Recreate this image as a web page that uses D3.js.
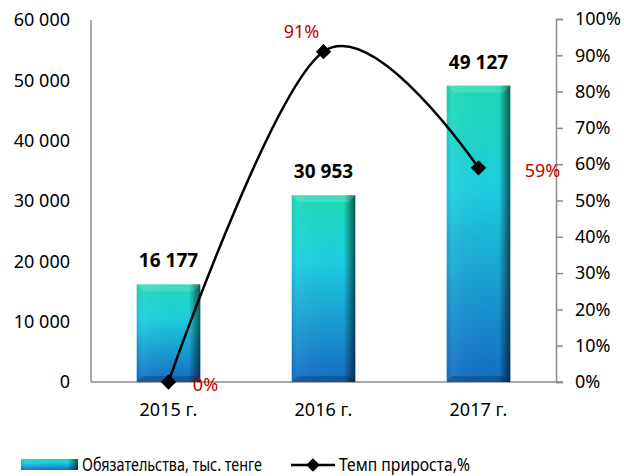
<!DOCTYPE html>
<html>
<head>
<meta charset="utf-8">
<script src="https://cdn.jsdelivr.net/npm/d3@7"></script>
<style>
  body { margin: 0; background: #fff; }
  svg text { font-family: "Noto Sans", "Open Sans", sans-serif; }
</style>
</head>
<body>
<svg id="chart" width="624" height="476"></svg>
<script>
const years = ["2015 г.", "2016 г.", "2017 г."];
const liabilities = [16177, 30953, 49127];
const growth = [0, 91, 59];
const leftTicks = [0, 10000, 20000, 30000, 40000, 50000, 60000];
const rightTicks = [0, 10, 20, 30, 40, 50, 60, 70, 80, 90, 100];
const barLabel = "Обязательства, тыс. тенге";
const lineLabel = "Темп прироста,%";

const svg = d3.select("#chart");
const m = { left: 91, right: 556, top: 20, bottom: 382 };
const fs = 18;

const x = d3.scaleBand().domain(years).range([m.left, m.right]).paddingInner(0.59).paddingOuter(0.295);
const y = d3.scaleLinear().domain([0, 60000]).range([m.bottom, m.top]);
const y2 = d3.scaleLinear().domain([0, 100]).range([m.bottom, m.top - 1]);

const fmt = v => d3.format(",")(v).replace(/,/g, " ");

// gradients
const defs = svg.append("defs");
const vg = defs.append("linearGradient").attr("id", "barGrad").attr("x1", 0).attr("y1", 0).attr("x2", 0).attr("y2", 1);
vg.append("stop").attr("offset", "0%").attr("stop-color", "#1cdab4");
vg.append("stop").attr("offset", "35%").attr("stop-color", "#1ccfe0");
vg.append("stop").attr("offset", "100%").attr("stop-color", "#146cc4");
const hg = defs.append("linearGradient").attr("id", "edgeGrad").attr("x1", 0).attr("y1", 0).attr("x2", 1).attr("y2", 0);
hg.append("stop").attr("offset", "0%").attr("stop-color", "#000").attr("stop-opacity", 0.08);
hg.append("stop").attr("offset", "8%").attr("stop-color", "#fff").attr("stop-opacity", 0.06);
hg.append("stop").attr("offset", "82%").attr("stop-color", "#000").attr("stop-opacity", 0);
hg.append("stop").attr("offset", "100%").attr("stop-color", "#000").attr("stop-opacity", 0.6);

// axes lines
const axisColor = "#8c8c8c";
svg.append("line").attr("x1", m.left).attr("x2", m.left).attr("y1", y(60000)).attr("y2", m.bottom)
  .attr("stroke", axisColor).attr("stroke-width", 1.5);
svg.append("line").attr("x1", m.left).attr("x2", m.right + 7).attr("y1", m.bottom).attr("y2", m.bottom)
  .attr("stroke", axisColor).attr("stroke-width", 1.5);

const gR = svg.append("g").attr("transform", `translate(${m.right},0)`)
  .call(d3.axisRight(y2).tickValues(rightTicks).tickFormat(d => d + "%").tickSize(7).tickPadding(12));
gR.select(".domain").attr("stroke", axisColor).attr("stroke-width", 1.5);
gR.selectAll(".tick line").attr("stroke", axisColor).attr("stroke-width", 1.5);
gR.selectAll("text").attr("font-size", fs).attr("fill", "#000").attr("font-family", "Noto Sans");

const gL = svg.append("g");
gL.selectAll("text").data(leftTicks).join("text")
  .attr("x", 70).attr("y", d => y(d)).attr("dy", "0.35em").attr("text-anchor", "end")
  .attr("font-size", fs).text(fmt);

// x labels
svg.selectAll(".xl").data(years).join("text").attr("class", "xl")
  .attr("x", d => x(d) + x.bandwidth() / 2).attr("y", 416).attr("text-anchor", "middle")
  .attr("font-size", fs).text(d => d);

// bars
const bars = svg.selectAll(".bar").data(liabilities).join("g").attr("class", "bar");
bars.append("rect").attr("x", (d, i) => x(years[i])).attr("y", d => y(d))
  .attr("width", x.bandwidth()).attr("height", d => m.bottom - y(d)).attr("fill", "url(#barGrad)");
bars.append("rect").attr("x", (d, i) => x(years[i])).attr("y", d => y(d))
  .attr("width", x.bandwidth()).attr("height", d => m.bottom - y(d)).attr("fill", "url(#edgeGrad)");
// top bevel
bars.append("path").attr("d", (d, i) => {
  const x0 = x(years[i]), w = x.bandwidth(), t = y(d);
  return `M${x0},${t}L${x0 + w},${t}L${x0 + w - 7},${t + 7}L${x0 + 7},${t + 7}Z`;
}).attr("fill", "#fff").attr("fill-opacity", 0.15);
// bottom bevel
bars.append("path").attr("d", (d, i) => {
  const x0 = x(years[i]), w = x.bandwidth(), b = m.bottom;
  return `M${x0},${b}L${x0 + w},${b}L${x0 + w - 6},${b - 6}L${x0 + 6},${b - 6}Z`;
}).attr("fill", "#000").attr("fill-opacity", 0.2);
bars.append("text").attr("x", (d, i) => x(years[i]) + x.bandwidth() / 2).attr("y", d => y(d) - 17)
  .attr("text-anchor", "middle").attr("font-size", 19).attr("font-weight", "bold").text(fmt);

// growth line
const cx = i => x(years[i]) + x.bandwidth() / 2;
const line = d3.line().x((d, i) => cx(i)).y(d => y2(d)).curve(d3.curveCardinal.tension(0));
svg.append("path").datum(growth).attr("d", line).attr("fill", "none").attr("stroke", "#000").attr("stroke-width", 2.5);
svg.selectAll(".mk").data(growth).join("path").attr("class", "mk")
  .attr("transform", (d, i) => `translate(${cx(i)},${y2(d)})`)
  .attr("d", d3.symbol(d3.symbolDiamond2, 150)).attr("fill", "#000");

const pctOffsets = [[37, 9], [-22, -14], [64, 9]];
svg.selectAll(".pl").data(growth).join("text").attr("class", "pl")
  .attr("x", (d, i) => cx(i) + pctOffsets[i][0]).attr("y", (d, i) => y2(d) + pctOffsets[i][1])
  .attr("text-anchor", "middle").attr("font-size", fs).attr("fill", "#c00000").text(d => d + "%");

// legend
const lg = svg.append("g");
lg.append("rect").attr("x", 21).attr("y", 459).attr("width", 57).attr("height", 11).attr("fill", "url(#barGrad)");
lg.append("rect").attr("x", 21).attr("y", 459).attr("width", 57).attr("height", 11).attr("fill", "url(#edgeGrad)");
lg.append("text").attr("x", 82).attr("y", 471).attr("font-size", fs)
  .attr("textLength", 180).attr("lengthAdjust", "spacingAndGlyphs").text(barLabel);
lg.append("line").attr("x1", 291).attr("x2", 335).attr("y1", 465).attr("y2", 465).attr("stroke", "#000").attr("stroke-width", 2.5);
lg.append("path").attr("transform", "translate(313,465)").attr("d", d3.symbol(d3.symbolDiamond2, 120)).attr("fill", "#000");
lg.append("text").attr("x", 339).attr("y", 471).attr("font-size", fs)
  .attr("textLength", 131).attr("lengthAdjust", "spacingAndGlyphs").text(lineLabel);
</script>
</body>
</html>
